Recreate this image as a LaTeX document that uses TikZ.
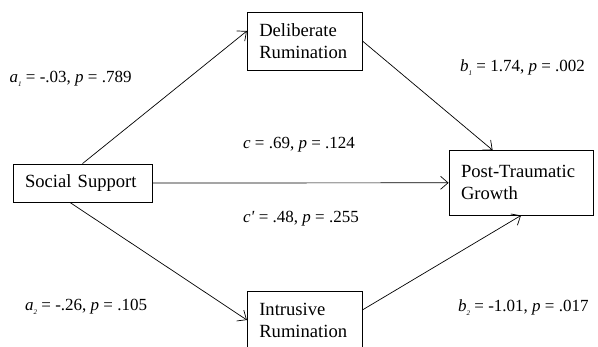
\documentclass[tikz,border=0pt]{standalone}
\usepackage{fontspec}
\setmainfont{Liberation Serif}
\usetikzlibrary{arrows.meta}

\newcommand{\lowsub}[1]{\raisebox{-4.5pt}{\fontsize{7}{7}\selectfont\itshape #1}}

\begin{document}
\begin{tikzpicture}[x=1pt,y=-1pt,
    box/.style={draw,line width=0.8pt,align=left,inner xsep=12pt,inner ysep=0pt,
      font=\fontsize{18.6}{22}\selectfont},
    coef/.style={anchor=base west,inner sep=0pt,font=\fontsize{17}{20}\selectfont},
    path/.style={->,line width=0.7pt,>={Straight Barb[length=7.5pt,width=13pt]}}]
    \useasboundingbox (0,0) rectangle (598,346);
    \begin{scope}
    \clip (0,0) rectangle (598,346);
    \node[box,text width=115pt-24pt,minimum height=58pt] (delib) at (304.8,41.2) {Deliberate\\Rumination};
    \node[box,text width=139pt-24pt,minimum height=38pt] (social) at (82.5,183) {Social Support};
    \node[box,text width=144pt-24pt,minimum height=64.5pt] (ptg) at (521,182.8) {Post-Traumatic\\Growth};
    \node[box,text width=115pt-24pt,minimum height=58pt] (intr) at (304.8,320) {Intrusive\\Rumination};
    \end{scope}
    \draw[path] (social.north) -- (delib.170);
    \draw[path] (delib.east) -- (ptg.131);
    \draw[path] (social.east) -- (ptg.west);
    \draw[path] (social.237) -- (intr.west);
    \draw[path] (intr.10) -- (ptg.south);
    \node[coef] (a1) at (9.5,82) {\textit{a}\lowsub{1} = -.03, \textit{p} = .789};
    \node[coef] (b1) at (460,71) {\textit{b}\lowsub{1} = 1.74, \textit{p} = .002};
    \node[coef] (c) at (243,148) {\textit{c} = .69, \textit{p} = .124};
    \node[coef] (cp) at (243,222) {\textit{c\textquotesingle} = .48, \textit{p} = .255};
    \node[coef] (a2) at (25,310) {\textit{a}\lowsub{2} = -.26, \textit{p} = .105};
    \node[coef] (b2) at (458,311) {\textit{b}\lowsub{2} = -1.01, \textit{p} = .017};
\end{tikzpicture}
\end{document}
